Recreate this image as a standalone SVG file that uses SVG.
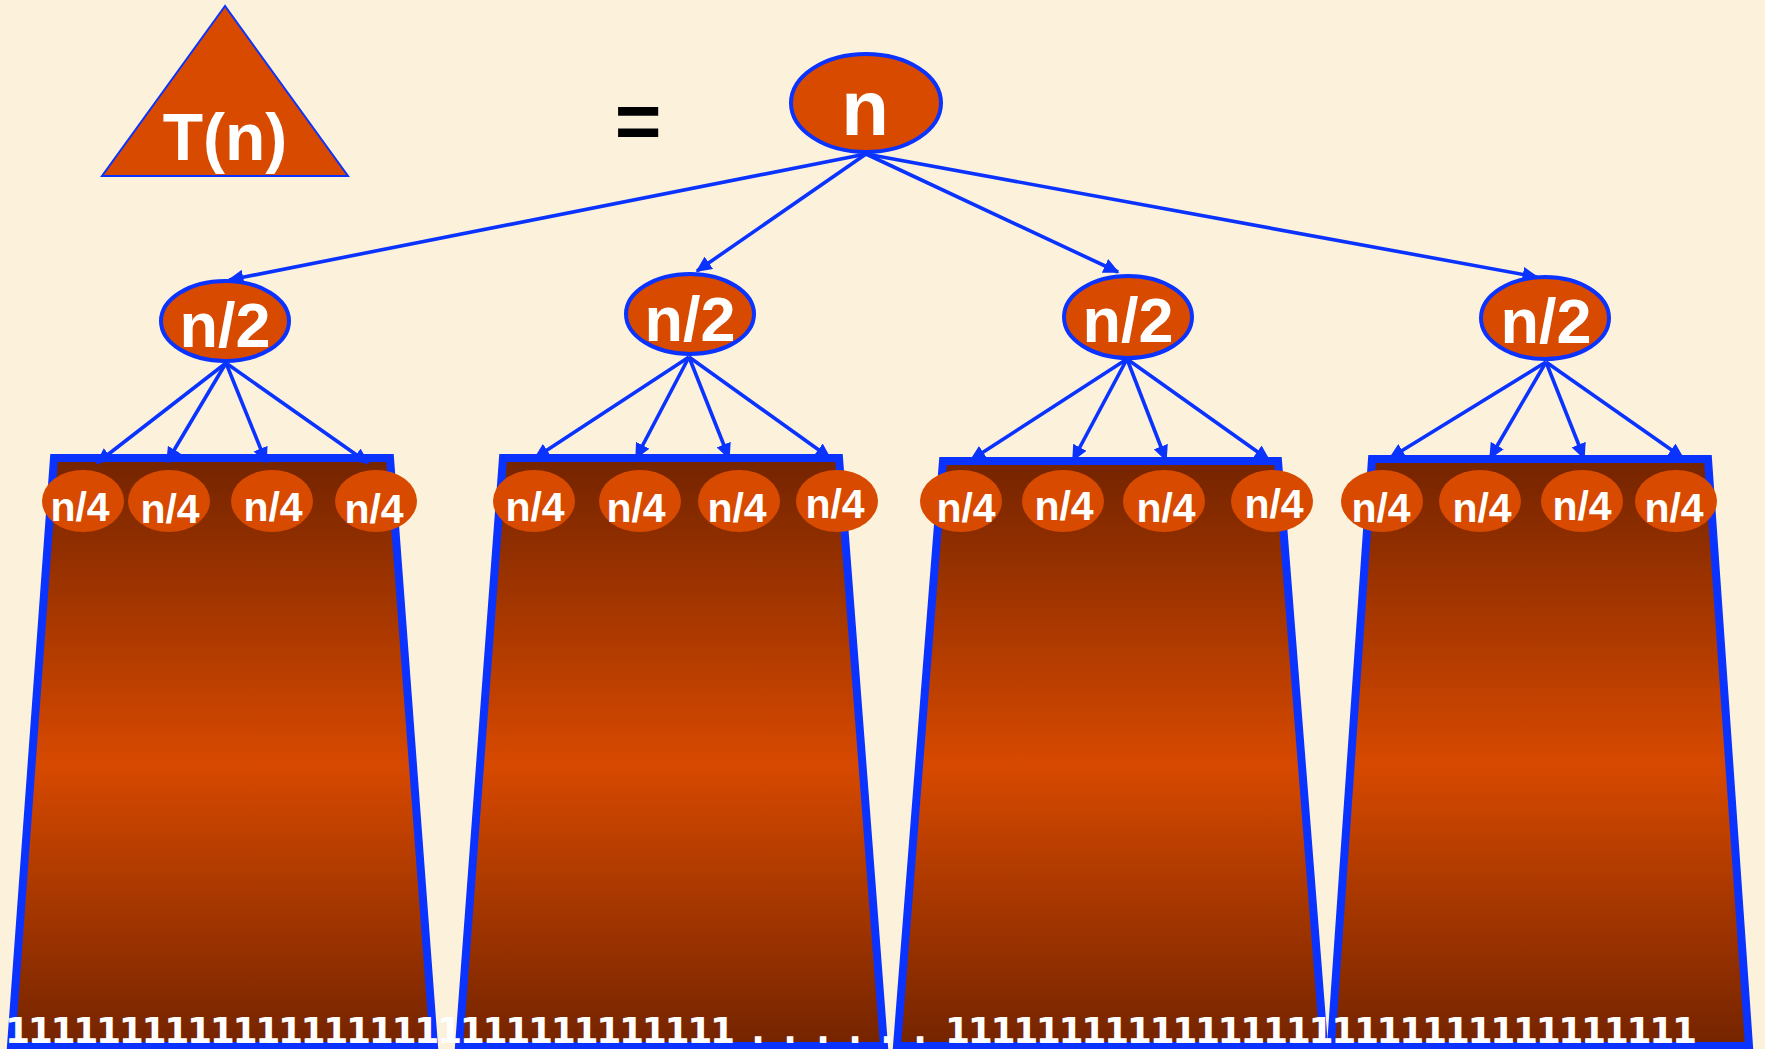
<svg xmlns="http://www.w3.org/2000/svg" width="1765" height="1049" viewBox="0 0 1765 1049">
  <style>
    .lbl { font-family: "Liberation Sans", Arial, sans-serif; font-weight: bold; fill: #ffffff; text-anchor: middle; }
    .node { fill: #D84A00; stroke: #0A33FF; stroke-width: 4; }
    .leaf { fill: #D84A00; }
    .trap { fill: url(#tgrad); stroke: #0A33FF; stroke-width: 8; stroke-linejoin: miter; }
    .edge { stroke: #0A33FF; stroke-width: 3.6; fill: none; marker-end: url(#arr); }
    .ones { font-family: "DejaVu Sans", "Liberation Sans", sans-serif; font-weight: bold; fill: #ffffff; font-size: 36px; }
  </style>
  <defs>
    <linearGradient id="tgrad" x1="0" y1="0" x2="0" y2="1">
      <stop offset="0" stop-color="#742400"/>
      <stop offset="0.52" stop-color="#D74900"/>
      <stop offset="1" stop-color="#742400"/>
    </linearGradient>
    <marker id="arr" viewBox="0 0 10 10" refX="9" refY="5" markerUnits="userSpaceOnUse" markerWidth="16" markerHeight="15" orient="auto" preserveAspectRatio="none">
      <path d="M0,0 L10,5 L0,10 z" fill="#0A33FF"/>
    </marker>
  </defs>

  <rect x="0" y="0" width="1765" height="1049" fill="#FCF2DB"/>

  <g id="triangle">
    <polygon points="225,6 102,176 348,176" fill="#D84A00" stroke="#0A33FF" stroke-width="2"/>
    <text class="lbl" x="225" y="160" font-size="66">T(n)</text>
  </g>

  <g id="equals">
    <text x="638" y="148" font-family="Liberation Sans, Arial, sans-serif" font-weight="bold" font-size="80" fill="#000000" text-anchor="middle">=</text>
  </g>

  <g id="subtree1"><polygon class="trap" points="54,458 390,458 434,1046 11,1046"/></g>
  <g id="subtree2"><polygon class="trap" points="503,458 839,458 884,1046 459,1046"/></g>
  <g id="subtree3"><polygon class="trap" points="943,461 1278,461 1324,1046 897,1046"/></g>
  <g id="subtree4"><polygon class="trap" points="1372,459 1708,459 1749,1046 1331,1046"/></g>

  <g id="leaves-text">
    <text class="ones" x="5" y="1043" textLength="730" lengthAdjust="spacing">11111111111111111111111111111111</text>
    <text class="ones" x="758 790 823 855 887 920" y="1043" text-anchor="middle">......</text>
    <text class="ones" x="945" y="1043" textLength="752" lengthAdjust="spacing">111111111111111111111111111111111</text>
  </g>

  <g id="root">
    <ellipse class="node" cx="866" cy="103" rx="75" ry="49"/>
    <text class="lbl" x="865" y="135" font-size="78">n</text>
  </g>

  <g id="half1">
    <ellipse class="node" cx="225" cy="321" rx="64" ry="40"/>
    <text class="lbl" x="225" y="347" font-size="63">n/2</text>
  </g>
  <g id="half2">
    <ellipse class="node" cx="690" cy="314" rx="64" ry="40"/>
    <text class="lbl" x="690" y="341" font-size="63">n/2</text>
  </g>
  <g id="half3">
    <ellipse class="node" cx="1128" cy="317" rx="64" ry="41"/>
    <text class="lbl" x="1128" y="342" font-size="63">n/2</text>
  </g>
  <g id="half4">
    <ellipse class="node" cx="1545" cy="318" rx="64" ry="41"/>
    <text class="lbl" x="1546" y="343" font-size="63">n/2</text>
  </g>

  <g id="quarter1-1"><ellipse class="leaf" cx="83" cy="501" rx="41" ry="31"/><text class="lbl" x="80" y="521" font-size="41">n/4</text></g>
  <g id="quarter1-2"><ellipse class="leaf" cx="169" cy="501" rx="41" ry="31"/><text class="lbl" x="170" y="523" font-size="41">n/4</text></g>
  <g id="quarter1-3"><ellipse class="leaf" cx="272" cy="501" rx="41" ry="31"/><text class="lbl" x="273" y="521" font-size="41">n/4</text></g>
  <g id="quarter1-4"><ellipse class="leaf" cx="376" cy="501" rx="41" ry="31"/><text class="lbl" x="374" y="523" font-size="41">n/4</text></g>

  <g id="quarter2-1"><ellipse class="leaf" cx="534" cy="501" rx="41" ry="31"/><text class="lbl" x="535" y="521" font-size="41">n/4</text></g>
  <g id="quarter2-2"><ellipse class="leaf" cx="640" cy="501" rx="41" ry="31"/><text class="lbl" x="636" y="522" font-size="41">n/4</text></g>
  <g id="quarter2-3"><ellipse class="leaf" cx="739" cy="501" rx="41" ry="31"/><text class="lbl" x="737" y="522" font-size="41">n/4</text></g>
  <g id="quarter2-4"><ellipse class="leaf" cx="837" cy="501" rx="41" ry="31"/><text class="lbl" x="835" y="518" font-size="41">n/4</text></g>

  <g id="quarter3-1"><ellipse class="leaf" cx="961" cy="501" rx="41" ry="31"/><text class="lbl" x="966" y="522" font-size="41">n/4</text></g>
  <g id="quarter3-2"><ellipse class="leaf" cx="1063" cy="501" rx="41" ry="31"/><text class="lbl" x="1064" y="520" font-size="41">n/4</text></g>
  <g id="quarter3-3"><ellipse class="leaf" cx="1164" cy="501" rx="41" ry="31"/><text class="lbl" x="1166" y="522" font-size="41">n/4</text></g>
  <g id="quarter3-4"><ellipse class="leaf" cx="1272" cy="501" rx="41" ry="31"/><text class="lbl" x="1274" y="518" font-size="41">n/4</text></g>

  <g id="quarter4-1"><ellipse class="leaf" cx="1382" cy="501" rx="41" ry="31"/><text class="lbl" x="1381" y="522" font-size="41">n/4</text></g>
  <g id="quarter4-2"><ellipse class="leaf" cx="1480" cy="501" rx="41" ry="31"/><text class="lbl" x="1482" y="522" font-size="41">n/4</text></g>
  <g id="quarter4-3"><ellipse class="leaf" cx="1582" cy="501" rx="41" ry="31"/><text class="lbl" x="1582" y="520" font-size="41">n/4</text></g>
  <g id="quarter4-4"><ellipse class="leaf" cx="1676" cy="501" rx="41" ry="31"/><text class="lbl" x="1674" y="522" font-size="41">n/4</text></g>

  <g id="connectors">
    <line class="edge" x1="866" y1="154" x2="229" y2="280"/>
    <line class="edge" x1="866" y1="154" x2="697" y2="271"/>
    <line class="edge" x1="866" y1="154" x2="1118" y2="272"/>
    <line class="edge" x1="866" y1="154" x2="1537" y2="277"/>

    <line class="edge" x1="226" y1="363" x2="97" y2="463"/>
    <line class="edge" x1="226" y1="363" x2="167" y2="462"/>
    <line class="edge" x1="226" y1="363" x2="266" y2="462"/>
    <line class="edge" x1="226" y1="363" x2="368" y2="463"/>

    <line class="edge" x1="689" y1="357" x2="535" y2="458"/>
    <line class="edge" x1="689" y1="357" x2="636" y2="458"/>
    <line class="edge" x1="689" y1="357" x2="729" y2="458"/>
    <line class="edge" x1="689" y1="357" x2="830" y2="458"/>

    <line class="edge" x1="1127" y1="359" x2="971" y2="460"/>
    <line class="edge" x1="1127" y1="359" x2="1073" y2="460"/>
    <line class="edge" x1="1127" y1="359" x2="1166" y2="460"/>
    <line class="edge" x1="1127" y1="359" x2="1269" y2="460"/>

    <line class="edge" x1="1546" y1="362" x2="1390" y2="458"/>
    <line class="edge" x1="1546" y1="362" x2="1490" y2="458"/>
    <line class="edge" x1="1546" y1="362" x2="1584" y2="458"/>
    <line class="edge" x1="1546" y1="362" x2="1683" y2="458"/>
  </g>
</svg>
